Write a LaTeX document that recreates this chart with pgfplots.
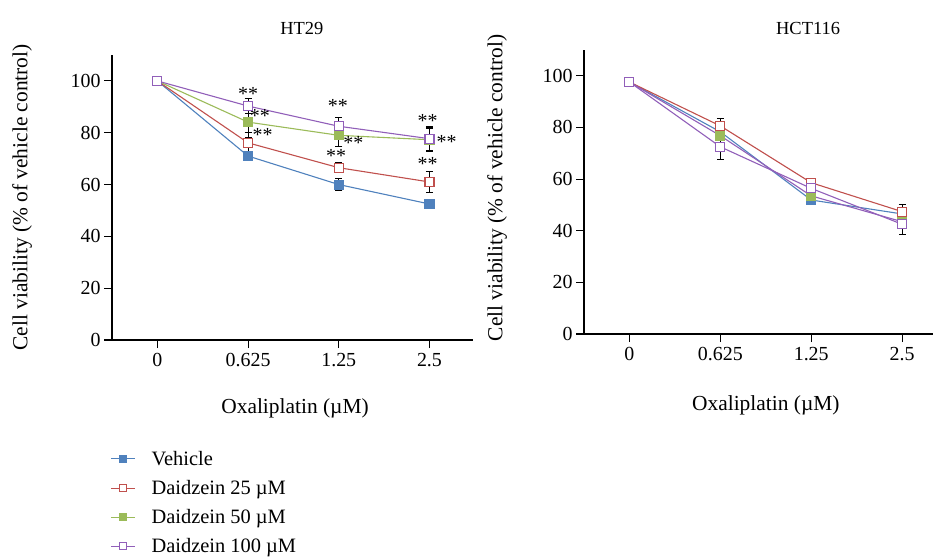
\documentclass[border=0pt]{standalone}
\usepackage{fontspec}
\setmainfont{Liberation Serif}
\usepackage{pgfplots}
\pgfplotsset{compat=1.18}
\definecolor{vblue}{RGB}{79,129,189}
\definecolor{dred}{RGB}{192,80,77}
\definecolor{dgreen}{RGB}{155,187,89}
\definecolor{dpurple}{RGB}{145,95,185}
\pgfplotsset{
  myaxis/.style={
    scale only axis,
    axis x line*=bottom, axis y line*=left,
    axis line style={line width=1.1bp, black},
    tick align=outside, major tick length=8bp,
    tick style={line width=1.1bp, black},
    xmin=-0.5, ymin=0, ymax=110,
    xtick={0,1,2,3}, xticklabels={0,0.625,1.25,2.5},
    ytick={0,20,40,60,80,100},
    /pgf/number format/assume math mode=true,
    tick label style={font=\fontsize{20}{24}\selectfont},
    xticklabel style={yshift=-2bp},
    label style={font=\fontsize{21.5}{26}\selectfont},
    title style={font=\fontsize{18.5}{22}\selectfont, anchor=center, yshift=-7bp},
    every axis plot/.append style={line width=1.1bp},
    error bars/error bar style={black, line width=1.1bp},
    error bars/error mark options={rotate=90, mark size=3.5bp, black, line width=1.1bp},
  },
  vehicle/.style={color=vblue, mark=square*, mark size=4.5bp, mark options={fill=vblue, draw=vblue}},
  d25/.style={color=dred, mark=square*, mark size=4.5bp, mark options={fill=white, draw=dred, line width=1.1bp}},
  d50/.style={color=dgreen, mark=square*, mark size=4.5bp, mark options={fill=dgreen, draw=dgreen}},
  d100/.style={color=dpurple, mark=square*, mark size=4.5bp, mark options={fill=white, draw=dpurple, line width=1.1bp}},
}
\begin{document}
\begin{tikzpicture}
\path[use as bounding box] (0bp,0bp) rectangle (933bp,-557bp);
\begin{axis}[myaxis,
  at={(112bp,-340bp)}, anchor=south west,
  width=361bp, height=285bp, xmax=3.48,
  title={HT29}, title style={at={(axis description cs:0.526,1.098)}},
  xlabel={Oxaliplatin (µM)}, xlabel style={at={(axis description cs:0.507,-0.239)}, anchor=center},
  ylabel={Cell viability (\% of vehicle control)}, ylabel style={at={(axis description cs:-0.249,0.5)}, anchor=center},
  legend style={at={(axis description cs:-0.013,-0.375)}, anchor=north west, draw=none, fill=none,
    font=\fontsize{20.5}{24}\selectfont, row sep=9.5bp, cells={anchor=west}},
  legend image code/.code={\draw[mark repeat=2,mark phase=2, mark size=3.5bp] plot coordinates {(0bp,0bp) (12bp,0bp) (24bp,0bp)};},
]
\addplot+[vehicle, error bars/.cd, y dir=both, y explicit] coordinates {
 (0,100) +- (0,0) (1,71.0) +- (0,1.5) (2,60.0) +- (0,2.4) (3,52.5) +- (0,0.8)};
\addlegendentry{\hspace*{14bp}Vehicle}
\addplot+[d25, error bars/.cd, y dir=both, y explicit] coordinates {
 (0,100) +- (0,0) (1,76.1) +- (0,4.0) (2,66.5) +- (0,2.0) (3,61.0) +- (0,4.1)};
\addlegendentry{\hspace*{14bp}Daidzein 25 µM}
\addplot+[d50, error bars/.cd, y dir=both, y explicit] coordinates {
 (0,100) +- (0,0) (1,84.1) +- (0,6.0) (2,79.0) +- (0,4.4) (3,77.3) +- (0,4.5)};
\addlegendentry{\hspace*{14bp}Daidzein 50 µM}
\addplot+[d100, error bars/.cd, y dir=both, y explicit] coordinates {
 (0,100) +- (0,0) (1,90.3) +- (0,3.0) (2,82.5) +- (0,3.3) (3,77.7) +- (0,4.5)};
\addlegendentry{\hspace*{14bp}Daidzein 100 µM}
\begin{scope}[every node/.style={font=\fontsize{20}{24}\selectfont, inner sep=0pt}]
\node at (axis cs:1.0,94.9) {**};
\node at (axis cs:1.13,86.5) {**};
\node at (axis cs:1.16,79.0) {**};
\node at (axis cs:1.99,90.3) {**};
\node at (axis cs:2.16,76.2) {**};
\node at (axis cs:1.97,71.0) {**};
\node at (axis cs:2.98,84.5) {**};
\node at (axis cs:3.19,76.4) {**};
\node at (axis cs:2.98,68.0) {**};
\end{scope}
\end{axis}
\begin{axis}[myaxis,
  at={(584bp,-334bp)}, anchor=south west,
  width=349bp, height=284bp, xmax=3.34,
  title={HCT116}, title style={at={(axis description cs:0.642,1.081)}},
  xlabel={Oxaliplatin (µM)}, xlabel style={at={(axis description cs:0.521,-0.25)}, anchor=center},
  ylabel={Cell viability (\% of vehicle control)}, ylabel style={at={(axis description cs:-0.249,0.514)}, anchor=center},
]
\addplot+[vehicle, error bars/.cd, y dir=both, y explicit] coordinates {
 (0,97.6) +- (0,0) (1,78.3) +- (0,1.5) (2,51.9) +- (0,0.8) (3,46.5) +- (0,1.0)};
\addplot+[d25, error bars/.cd, y dir=both, y explicit] coordinates {
 (0,97.6) +- (0,0) (1,80.6) +- (0,3.0) (2,58.6) +- (0,1.0) (3,47.4) +- (0,2.8)};
\addplot+[d50, color=dpurple, mark options={fill=dgreen, draw=dgreen}, error bars/.cd, y dir=both, y explicit] coordinates {
 (0,97.6) +- (0,0) (1,76.8) +- (0,1.5) (2,53.5) +- (0,1.0) (3,43.5) +- (0,1.5)};
\addplot+[d100, error bars/.cd, y dir=both, y explicit] coordinates {
 (0,97.6) +- (0,0) (1,72.5) +- (0,4.8) (2,56.4) +- (0,1.0) (3,42.5) +- (0,3.8)};
\end{axis}
\end{tikzpicture}
\end{document}
